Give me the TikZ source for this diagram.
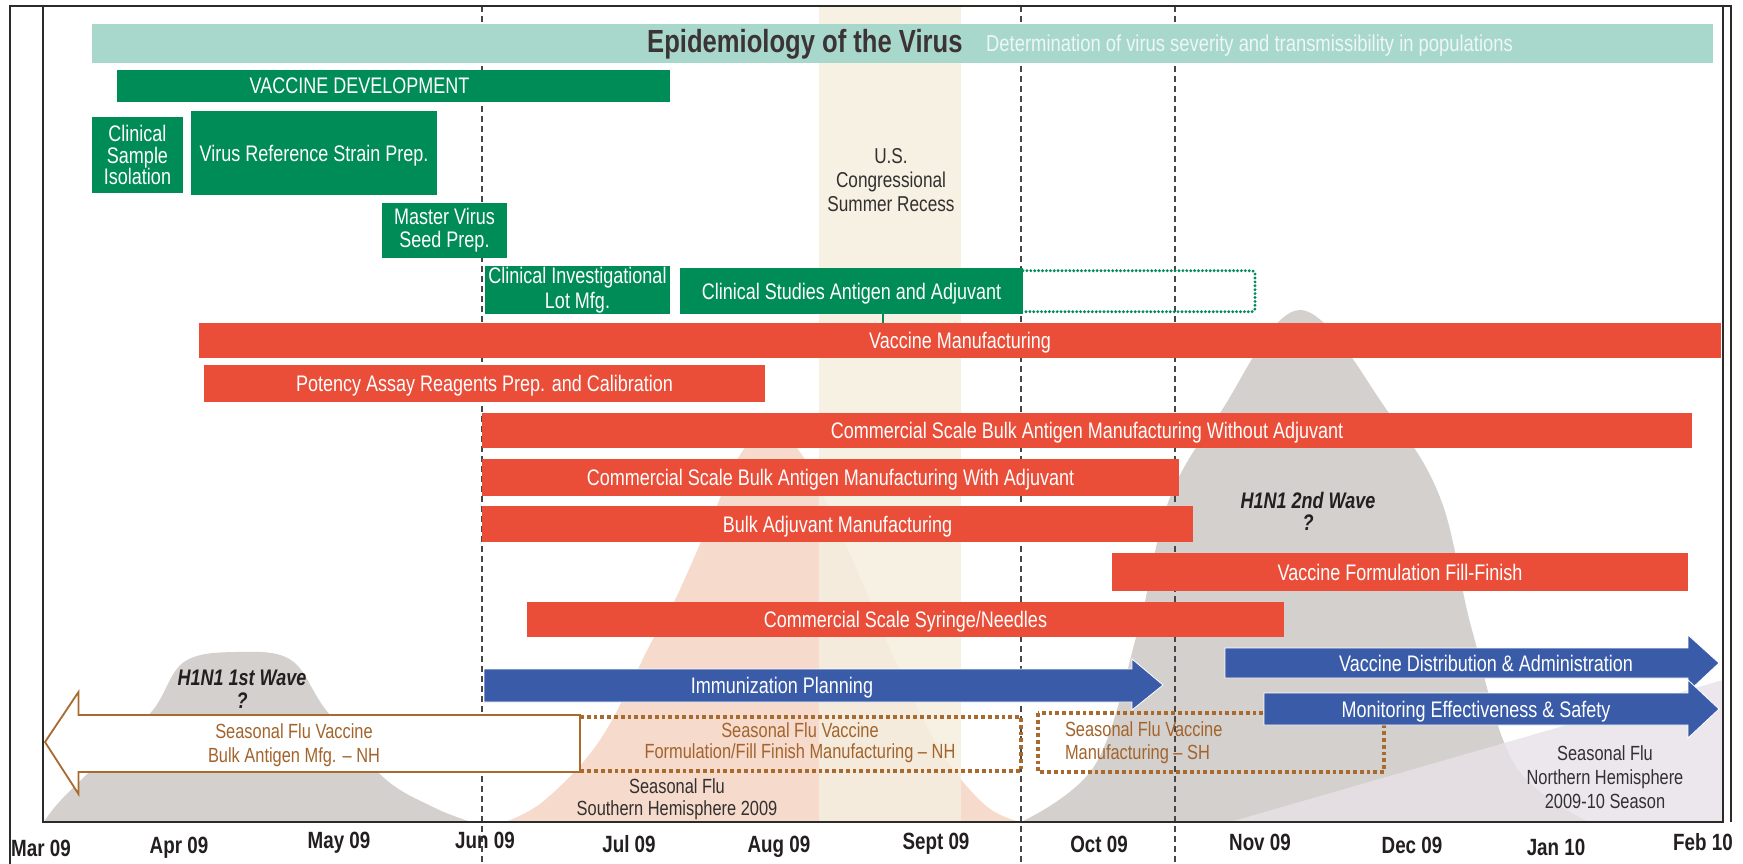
\documentclass[tikz,border=0pt]{standalone}
\usepackage{fontspec}
\setmainfont{Liberation Sans}[FakeStretch=0.8]
\usetikzlibrary{calc}
\definecolor{epiteal}{RGB}{168,216,204}
\definecolor{epititlec}{RGB}{60,52,52}
\definecolor{episubc}{RGB}{238,247,244}
\definecolor{vgreen}{RGB}{0,140,86}
\definecolor{vred}{RGB}{234,78,57}
\definecolor{vblue}{RGB}{58,92,168}
\definecolor{vbrown}{RGB}{168,106,46}
\definecolor{vbrowntext}{RGB}{162,100,44}
\definecolor{bellgrey}{RGB}{212,208,205}
\definecolor{peach}{RGB}{246,218,204}
\definecolor{beige}{RGB}{245,239,223}
\definecolor{lavender}{RGB}{232,226,233}
\definecolor{darktext}{RGB}{35,31,32}
\definecolor{greytext}{RGB}{50,48,48}
\definecolor{framec}{RGB}{45,42,42}
\newcommand\mybarfont{\fontsize{22.5}{23}\selectfont}
\newcommand\mymonthfont{\fontsize{23.5}{25}\selectfont\bfseries}
\tikzset{
  bar/.style={inner sep=0pt, outer sep=0pt, text=white, font=\mybarfont, align=center},
  greenbar/.style={bar, fill=vgreen},
  redbar/.style={bar, fill=vred},
  one/.style={text height=16pt, text depth=0pt},
  lbl/.style={inner sep=0pt, outer sep=0pt, align=center},
  monthlbl/.style={inner sep=0pt, anchor=base, font=\mymonthfont, text=darktext},
  monthline/.style={draw=black!72, line width=1.3pt, dash pattern=on 6pt off 4pt},
  bluearrow/.style={fill=vblue, draw=white, line width=0.8pt},
  browndots/.style={draw=vbrown, line width=3.6pt, dash pattern=on 3.8pt off 3pt},
  greendots/.style={draw=vgreen, line width=3.2pt, line cap=round, dash pattern=on 0pt off 3.9pt, rounded corners=3pt},
  wavelbl/.style={lbl, font=\fontsize{22.5}{23}\selectfont\bfseries\itshape, text=darktext}
}
\begin{document}
\begin{tikzpicture}[x=1pt,y=-1pt]
\useasboundingbox (0,0) rectangle (1743,864);
\fill[white] (0,0) rectangle (1743,864);
% southern hemisphere seasonal flu (peach)
\fill[peach] plot[smooth, tension=0.6] coordinates {(505,822) (545,800) (600,740) (651,643) (675,600) (715,510) (740,455) (771,425) (802,455) (830,510) (870,600) (895,660) (940,750) (985,805) (1020,822)} -- cycle;
% summer recess band
\fill[beige, opacity=0.85] (819,7) rectangle (961,822);
% H1N1 waves
\fill[bellgrey] plot[smooth, tension=0.6] coordinates {(44,822) (61,800) (110,752) (153,710) (184,662) (237,652) (291,660) (326,710) (383,777) (433,807) (471,822)} -- cycle;
\fill[bellgrey] plot[smooth, tension=0.6] coordinates {(1021,822) (1095,765) (1138,630) (1169,500) (1220,413) (1300,310) (1389,413) (1441,500) (1472,630) (1515,765) (1589,822)} -- cycle;
% northern hemisphere seasonal (lavender)
\fill[lavender, opacity=0.8] (1230,822) -- (1723,680) -- (1723,822) -- cycle;
% month dashed lines
\draw[monthline] (482,6) -- (482,864);
\draw[monthline] (1021,6) -- (1021,864);
\draw[monthline] (1175,6) -- (1175,864);
% frame
\draw[line width=2.2pt, draw=framec] (10,864) -- (10,6) -- (1731,6) -- (1731,822);
\draw[line width=1.4pt, draw=framec] (43,6) -- (43,822) -- (1723,822) -- (1723,6);
% background labels
\node[lbl, font=\fontsize{21.5}{24}\selectfont, text=greytext] (recess) at (891,180) {U.S.\\Congressional\\Summer Recess};
\node[wavelbl] (wave1) at (242,678) {H1N1 1st Wave};
\node[wavelbl] (wave1q) at (242,701) {?};
\node[wavelbl] (wave2) at (1308,500) {H1N1 2nd Wave};
\node[wavelbl] (wave2q) at (1308,523) {?};
\node[lbl, font=\fontsize{20.5}{22}\selectfont, text=greytext] (shlbl) at (677,799) {Seasonal Flu\\Southern Hemisphere 2009};
\node[lbl, font=\fontsize{20.5}{24}\selectfont, text=greytext] (nhlbl) at (1605,777) {Seasonal Flu\\Northern Hemisphere\\2009-10 Season};
% epidemiology
\node[fill=epiteal, inner sep=0pt, minimum width=1621pt, minimum height=39pt] (epi) at (902.5,43.5) {};
\node[anchor=base west, inner sep=0pt, font=\fontsize{32}{34}\selectfont\bfseries, text=epititlec] (epititle) at (647,53) {Epidemiology of the Virus};
\node[anchor=base west, inner sep=0pt, font=\fontsize{23}{25}\selectfont, text=episubc] (episub) at (986,52) {Determination of virus severity and transmissibility in populations};
% green boxes
\node[greenbar, minimum width=553pt, minimum height=32pt] (vdev) at (393.5,86) {};
\node[bar, one] (vdevlbl) at (359.5,86) {VACCINE DEVELOPMENT};
\node[greenbar, minimum width=91pt, minimum height=76pt, font=\fontsize{22.5}{21.5}\selectfont] (clinsample) at (137.5,155) {Clinical\\Sample\\Isolation};
\node[greenbar, one, minimum width=246pt, minimum height=84pt] (virusref) at (314,153) {Virus Reference Strain Prep.};
\node[greenbar, minimum width=125pt, minimum height=55pt, font=\fontsize{22.5}{23}\selectfont] (master) at (444.5,230.5) {Master Virus\\Seed Prep.};
\node[greenbar, minimum width=185pt, minimum height=48pt, font=\fontsize{22.5}{25}\selectfont] (clinlot) at (577.5,290) {Clinical Investigational\\Lot Mfg.};
\node[greenbar, one, minimum width=343pt, minimum height=46pt] (clinstud) at (851.5,291) {Clinical Studies Antigen and Adjuvant};
\draw[greendots] (1023,270.7) -- (1255,270.7) -- (1255,311.7) -- (1023,311.7);
% red bars
\node[redbar, one, minimum width=1522pt, minimum height=35pt] (vmfg) at (960,340.2) {Vaccine Manufacturing};
\coordinate (gl) at (883,0);
\draw[vgreen, line width=1.2pt] (clinstud.south -| gl) -- (vmfg.north -| gl);
\node[redbar, one, minimum width=561pt, minimum height=37pt] (potency) at (484.5,383.5) {Potency Assay Reagents Prep. and Calibration};
\node[redbar, one, minimum width=1210pt, minimum height=35pt] (bulkwo) at (1087,430.5) {Commercial Scale Bulk Antigen Manufacturing Without Adjuvant};
\node[redbar, one, minimum width=697pt, minimum height=37pt] (bulkw) at (830.5,477.5) {Commercial Scale Bulk Antigen Manufacturing With Adjuvant};
\node[redbar, one, minimum width=711pt, minimum height=36pt] (adjuv) at (837.5,524) {Bulk Adjuvant Manufacturing};
\node[redbar, one, minimum width=576pt, minimum height=38pt] (fillfin) at (1400,572) {Vaccine Formulation Fill-Finish};
\node[redbar, one, minimum width=757pt, minimum height=35pt] (syringe) at (905.5,619.5) {Commercial Scale Syringe/Needles};
% brown seasonal flu shapes
\draw[browndots] (580,717) -- (1021,717) -- (1021,771) -- (580,771);
\draw[browndots] (1038,713) rectangle (1384,772);
\draw[vbrown, fill=white, line width=1.8pt, line join=miter] (580,715) -- (78.5,715) -- (78.5,692) -- (45,742) -- (78.5,794) -- (78.5,772) -- (580,772) -- cycle;
\node[lbl, font=\fontsize{20.5}{24}\selectfont, text=vbrowntext] (nhbulk) at (294,745) {Seasonal Flu Vaccine\\Bulk Antigen Mfg. -- NH};
\node[lbl, font=\fontsize{20.5}{21}\selectfont, text=vbrowntext] (nhfill) at (800,743) {Seasonal Flu Vaccine\\Formulation/Fill Finish Manufacturing -- NH};
\node[lbl, anchor=west, align=left, font=\fontsize{20.5}{23}\selectfont, text=vbrowntext] (shmfg) at (1065,743) {Seasonal Flu Vaccine\\Manufacturing -- SH};
% blue arrows
\fill[bluearrow] (484,669) -- (1132,669) -- (1132,659) -- (1163,685) -- (1132,710) -- (1132,702) -- (484,702) -- cycle;
\node[bar, one] (immun) at (782,685.5) {Immunization Planning};
\fill[bluearrow] (1225,648) -- (1688,648) -- (1688,635) -- (1719,663) -- (1688,692) -- (1688,678) -- (1225,678) -- cycle;
\node[bar, one] (distrib) at (1486,663) {Vaccine Distribution \& Administration};
\fill[bluearrow] (1264,693) -- (1688,693) -- (1688,680) -- (1719,709) -- (1688,738) -- (1688,725) -- (1264,725) -- cycle;
\node[bar, one] (monit) at (1476,709) {Monitoring Effectiveness \& Safety};
% month labels
\node[monthlbl] (m1) at (41,856) {Mar 09};
\node[monthlbl] (m2) at (179,853) {Apr 09};
\node[monthlbl] (m3) at (339,848) {May 09};
\node[monthlbl] (m4) at (485,848) {Jun 09};
\node[monthlbl] (m5) at (629,852) {Jul 09};
\node[monthlbl] (m6) at (779,852) {Aug 09};
\node[monthlbl] (m7) at (936,849) {Sept 09};
\node[monthlbl] (m8) at (1099,852) {Oct 09};
\node[monthlbl] (m9) at (1260,850) {Nov 09};
\node[monthlbl] (m10) at (1412,853) {Dec 09};
\node[monthlbl] (m11) at (1556,855) {Jan 10};
\node[monthlbl] (m12) at (1703,850) {Feb 10};
\end{tikzpicture}
\end{document}
